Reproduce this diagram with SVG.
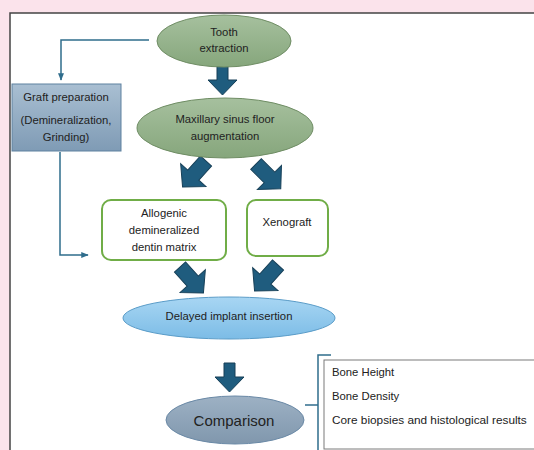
<svg xmlns="http://www.w3.org/2000/svg" width="534" height="450" viewBox="0 0 534 450">
<defs>
<linearGradient id="gGreen" x1="0" y1="0" x2="0" y2="1"><stop offset="0" stop-color="#a6c09e"/><stop offset="1" stop-color="#86a67c"/></linearGradient>
<linearGradient id="gBlueBox" x1="0" y1="0" x2="0" y2="1"><stop offset="0" stop-color="#a9bfd2"/><stop offset="1" stop-color="#7f9bb5"/></linearGradient>
<linearGradient id="gLight" x1="0" y1="0" x2="0" y2="1"><stop offset="0" stop-color="#a8d6f3"/><stop offset="1" stop-color="#7cbce6"/></linearGradient>
<linearGradient id="gGray" x1="0" y1="0" x2="0" y2="1"><stop offset="0" stop-color="#9db1c4"/><stop offset="1" stop-color="#8097ad"/></linearGradient>
<marker id="ah" viewBox="0 0 10 10" refX="9" refY="5" markerWidth="5" markerHeight="5" orient="auto" markerUnits="strokeWidth"><path d="M0,1 L10,5 L0,9 Z" fill="#2f6d8c"/></marker>
<path id="downArrow" d="M-5.5,0 L5.5,0 L5.5,14 L14.5,14 L0,29 L-14.5,14 L-5.5,14 Z"/>
<path id="diagArrow" d="M-7.5,0 L7.5,0 L7.5,19 L17,19 L0,35 L-17,19 L-7.5,19 Z"/>
</defs>
<style>
text{font-family:"Liberation Sans",Arial,sans-serif;fill:#222;font-size:11.3px;text-anchor:middle}
.l{text-anchor:start}
.blk{fill:#1f5c7e;stroke:#163f57;stroke-width:1}
.conn{fill:none;stroke:#2f6d8c;stroke-width:1.5}
.gbox{fill:none;stroke:#70ad47;stroke-width:2}
</style>
<rect x="0" y="0" width="534" height="450" fill="#fbe3eb"/>
<rect x="10" y="13" width="540" height="450" fill="#ffffff" stroke="#444" stroke-width="1.5"/>

<g id="connectors">
<polyline class="conn" points="149,40 61,40 61,80" marker-end="url(#ah)"/>
<polyline class="conn" points="60,152 60,255 88,255" marker-end="url(#ah)"/>
<polyline class="conn" points="305,405 318,405"/>
<polyline class="conn" points="331,355 318,355 318,452"/>
<use href="#downArrow" class="blk" transform="translate(222.5,66)"/>
<use href="#diagArrow" class="blk" transform="translate(206,161) rotate(42)"/>
<use href="#diagArrow" class="blk" transform="translate(256,164) rotate(-45)"/>
<use href="#diagArrow" class="blk" transform="translate(180,267) rotate(-42)"/>
<use href="#diagArrow" class="blk" transform="translate(278,265) rotate(42)"/>
<use href="#downArrow" class="blk" transform="translate(229.5,363)"/>
</g>

<g id="tooth">
<ellipse cx="224" cy="41" rx="67" ry="26" fill="url(#gGreen)" stroke="#6f8d64" stroke-width="1"/>
<text x="224" y="36">Tooth</text>
<text x="224" y="52">extraction</text>
</g>

<g id="graft">
<rect x="12" y="84" width="109" height="67" fill="url(#gBlueBox)" stroke="#5e81a0" stroke-width="1"/>
<text x="66" y="101">Graft preparation</text>
<text x="66" y="124">(Demineralization,</text>
<text x="66" y="141">Grinding)</text>
</g>

<g id="maxillary">
<ellipse cx="225" cy="128" rx="88" ry="30" fill="url(#gGreen)" stroke="#6f8d64" stroke-width="1"/>
<text x="225" y="123">Maxillary sinus floor</text>
<text x="225" y="140">augmentation</text>
</g>

<g id="allogenic">
<rect x="102" y="200" width="124" height="60" rx="9" class="gbox" fill="#fff"/>
<text x="164" y="217">Allogenic</text>
<text x="164" y="234">demineralized</text>
<text x="164" y="251">dentin matrix</text>
</g>

<g id="xenograft">
<rect x="247" y="200" width="81" height="56" rx="9" class="gbox" fill="#fff"/>
<text x="287" y="226">Xenograft</text>
</g>

<g id="delayed">
<ellipse cx="229" cy="318" rx="106" ry="21" fill="url(#gLight)" stroke="#5a9cc8" stroke-width="1"/>
<text x="229" y="320">Delayed implant insertion</text>
</g>

<g id="comparison">
<ellipse cx="235" cy="420" rx="69" ry="24" fill="url(#gGray)" stroke="#6a89a6" stroke-width="1"/>
<text x="234" y="426" style="font-size:15px">Comparison</text>
</g>

<g id="outcomes">
<rect x="324" y="360" width="220" height="89" fill="#fff" stroke="#7a7a7a" stroke-width="1"/>
<text class="l" x="332" y="376">Bone Height</text>
<text class="l" x="332" y="400">Bone Density</text>
<text class="l" x="332" y="424" style="font-size:11.8px">Core biopsies and histological results</text>
</g>
</svg>
